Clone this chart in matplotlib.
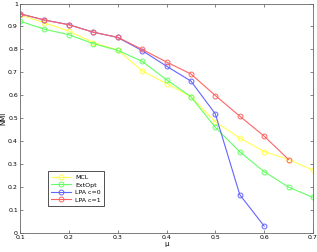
import matplotlib.pyplot as plt
import numpy as np

mu = [0.1, 0.15, 0.2, 0.25, 0.3, 0.35, 0.4, 0.45, 0.5, 0.55, 0.6, 0.65, 0.7]

mcl = [0.95, 0.916, 0.88, 0.83, 0.797, 0.707, 0.651, 0.594, 0.484, 0.414, 0.355, 0.32, 0.274]
extopt = [0.923, 0.888, 0.864, 0.825, 0.796, 0.748, 0.668, 0.594, 0.46, 0.354, 0.267, 0.20, 0.155]
lpa0 = [0.955, 0.928, 0.908, 0.875, 0.852, 0.795, 0.727, 0.662, 0.519, 0.167, 0.03]
lpa1 = [0.955, 0.928, 0.907, 0.875, 0.853, 0.80, 0.745, 0.693, 0.599, 0.509, 0.422, 0.32]

series = [
    ('MCL', mcl, '#ffff50'),
    ('ExtOpt', extopt, '#64ff64'),
    ('LPA c=0', lpa0, '#6464ff'),
    ('LPA c=1', lpa1, '#ff6464'),
]

fig = plt.figure(figsize=(3.17, 2.52), dpi=100)
ax = fig.add_axes([20 / 317, 19 / 252, 293 / 317, 229.5 / 252])

for name, vals, col in series:
    ax.plot(mu[:len(vals)], vals, color=col, linewidth=0.8, marker='o',
            markersize=3.5, markerfacecolor='none', markeredgewidth=0.7,
            label=name)

ax.set_xlim(0.1, 0.7)
ax.set_ylim(0, 1)
ax.set_xticks(np.arange(0.1, 0.71, 0.1))
ax.set_xticklabels(['0.1', '0.2', '0.3', '0.4', '0.5', '0.6', '0.7'])
ax.set_yticks(np.arange(0, 1.01, 0.1))
ax.set_yticklabels(['0', '0.1', '0.2', '0.3', '0.4', '0.5', '0.6', '0.7', '0.8', '0.9', '1'])
ax.tick_params(direction='in', length=2, width=0.5, labelsize=4.5, pad=1.5,
               top=True, right=True, colors='#555555', labelcolor='black')
for sp in ax.spines.values():
    sp.set_linewidth(0.6)
    sp.set_color('#666666')
ax.set_xlabel('μ', fontsize=5, labelpad=1)
ax.set_ylabel('NMI', fontsize=5, labelpad=1)

leg = ax.legend(loc='lower left', bbox_to_anchor=(0.086, 0.105), fontsize=4.5,
                frameon=True, fancybox=False, handlelength=3.2,
                handletextpad=0.6, borderpad=0.5, labelspacing=0.35)
leg.get_frame().set_edgecolor('black')
leg.get_frame().set_linewidth(0.6)

fig.savefig('out.png', dpi=100)
